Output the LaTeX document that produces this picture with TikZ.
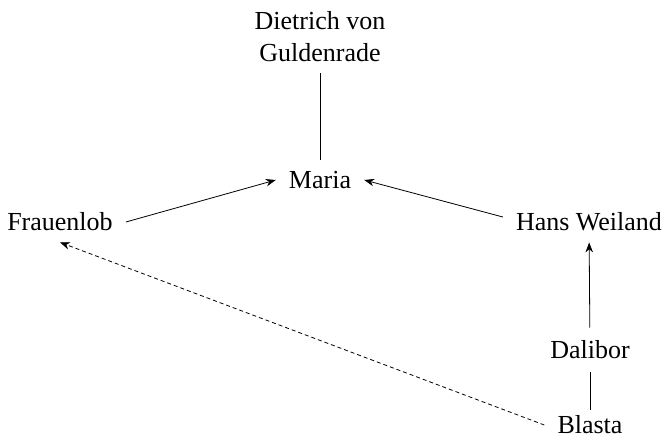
\documentclass[tikz,border=0pt]{standalone}
\usepackage{fontspec}
\setmainfont{Liberation Serif}
\usetikzlibrary{arrows.meta}

\begin{document}
\begin{tikzpicture}[x=1pt, y=1pt, >={Stealth[length=10pt,width=7.5pt]},
    person/.style={font=\fontsize{26}{32}\selectfont, align=center, inner xsep=13pt, inner ysep=11pt},
    link/.style={line width=0.8pt},
    dashlink/.style={line width=0.8pt, dash pattern=on 4pt off 3pt}]
    \useasboundingbox (0,0) rectangle (664,439);
    \node[person] (D) at (320,402) {Dietrich von\\Guldenrade};
    \node[person] (M) at (320,259) {Maria};
    \node[person] (F) at (60,217) {Frauenlob};
    \node[person] (H) at (589,217) {Hans Weiland};
    \node[person, inner ysep=13pt] (L) at (590,89) {Dalibor};
    \node[person, inner ysep=6pt] (B) at (590,14) {Blasta};
    \draw[link] (D) -- (M);
    \draw[link,->] (F.east) -- (M.west);
    \draw[link,->] ([yshift=5pt]H.west) -- (M.east);
    \draw[link,->] (L) -- (H);
    \draw[link] (B) -- (L);
    \draw[dashlink,->] (B.west) -- (F.south);
\end{tikzpicture}
\end{document}
